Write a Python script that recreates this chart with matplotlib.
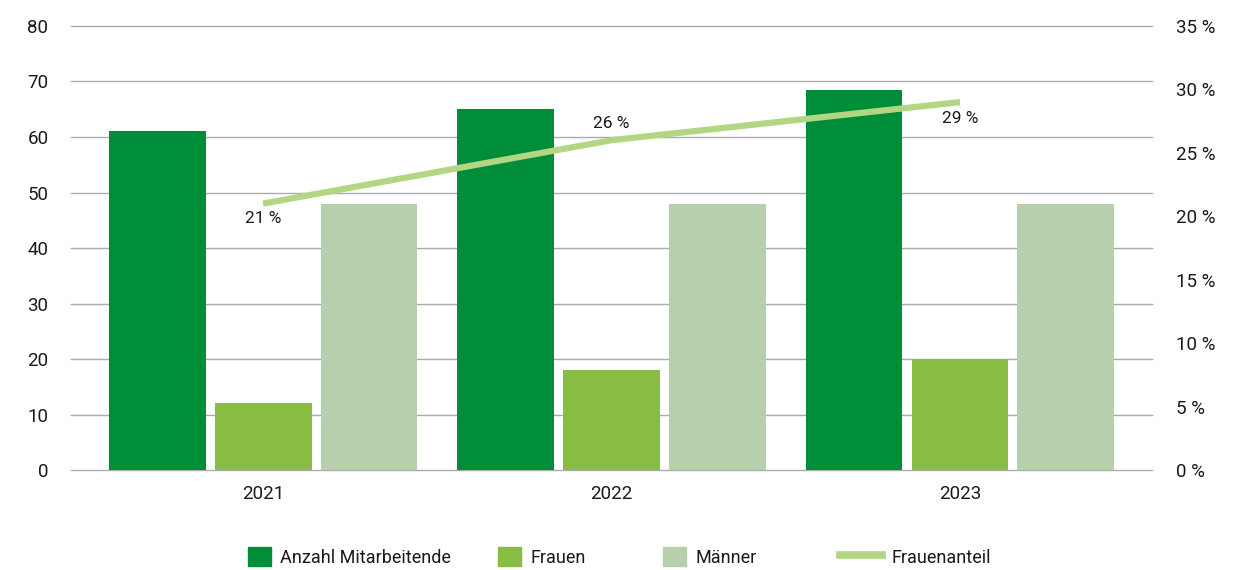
import numpy as np
import matplotlib.pyplot as plt
from matplotlib.patches import Patch
from matplotlib.lines import Line2D

plt.rcParams['font.family'] = ['Roboto', 'DejaVu Sans']

years = ['2021', '2022', '2023']
anzahl = [61, 65, 68.5]
frauen = [12, 18, 20]
maenner = [48, 48, 48]
frauenanteil = [21, 26, 29]  # in %

C_ANZ = '#008D39'
C_FRAU = '#88BC43'
C_MANN = '#B7CFAD'
C_LINE = '#B2D681'
C_GRID = '#ABABAB'
C_TEXT = '#1a1a1a'

fig = plt.figure(figsize=(12.45, 5.70), dpi=100)
ax = fig.add_axes([0.0568, 0.1754, 0.8685, 0.7790])

x = np.arange(len(years))
w = 0.278
off = 0.304
ax.bar(x - off, anzahl, w, color=C_ANZ, zorder=2)
ax.bar(x, frauen, w, color=C_FRAU, zorder=2)
ax.bar(x + off, maenner, w, color=C_MANN, zorder=2)

ax.set_xlim(-0.552, 2.551)
ax.set_ylim(0, 80)
ax.set_yticks(range(0, 81, 10))
ax.yaxis.grid(True, color=C_GRID, linewidth=1.0)
for gl in ax.get_ygridlines():
    gl.set_clip_on(False)
ax.set_axisbelow(True)
for s in ax.spines.values():
    s.set_visible(False)
ax.set_xticks(x)
ax.set_xticklabels(years)
ax.tick_params(axis='both', length=0, labelsize=13.5, colors=C_TEXT)
ax.tick_params(axis='y', pad=16)
ax.tick_params(axis='x', pad=11)

# share of women on the right axis
ax2 = ax.twinx()
ax2.set_ylim(0, 35)
ax2.set_yticks(range(0, 36, 5))
ax2.set_yticklabels([f'{v} %' for v in range(0, 36, 5)])
ax2.tick_params(axis='y', length=0, labelsize=13.5, pad=17, colors=C_TEXT)
for s in ax2.spines.values():
    s.set_visible(False)
ax2.plot(x, frauenanteil, color=C_LINE, linewidth=4.5, solid_capstyle='butt', zorder=3)

label_offsets = [-11, 12, -12]
for xi, v, dy in zip(x, frauenanteil, label_offsets):
    ax2.annotate(f'{v} %', (xi, v), textcoords='offset points', xytext=(0, dy),
                 ha='center', va='center', fontsize=12.5, color=C_TEXT)

# legend entries placed individually along the bottom
handles = [Patch(color=C_ANZ), Patch(color=C_FRAU), Patch(color=C_MANN),
           Line2D([], [], color=C_LINE, linewidth=5.5)]
labels = ['Anzahl Mitarbeitende', 'Frauen', 'Männer', 'Frauenanteil']
lefts = [248, 498, 663, 840]
for h, lab, lx in zip(handles, labels, lefts):
    is_line = isinstance(h, Line2D)
    fig.legend([h], [lab], loc='center left', bbox_to_anchor=(lx / 1245, 1 - 557 / 570),
               frameon=False, fontsize=13, borderpad=0, borderaxespad=0,
               handlelength=2.3 if is_line else 1.25, handleheight=1.25,
               handletextpad=0.55, labelcolor=C_TEXT)

fig.savefig('out.png', dpi=100)
